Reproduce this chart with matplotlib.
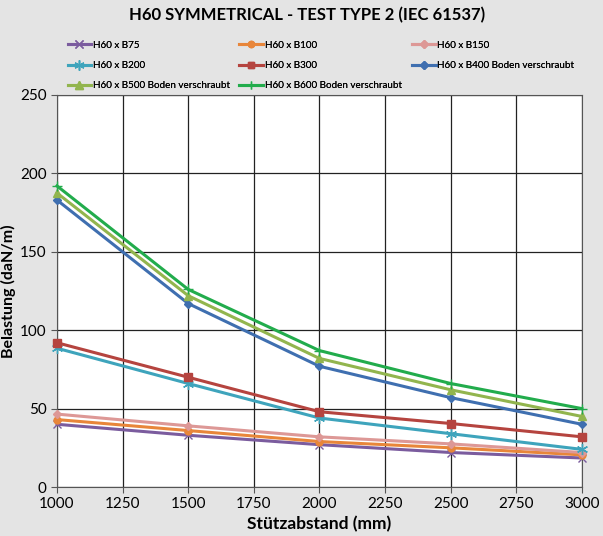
import matplotlib.pyplot as plt

plt.rcParams['font.family'] = ['Lato', 'DejaVu Sans']

# Stützabstand (mm)
spans = [1000, 1500, 2000, 2500, 3000]

# Belastung (daN/m) per profile
b75 = [40, 33, 27, 22, 18.5]
b100 = [43, 36, 29, 25, 20.5]
b150 = [46.5, 39, 32, 27.5, 22]
b200 = [88.5, 66, 44, 34, 24]
b300 = [92, 70, 48, 40.5, 32]
b400 = [183, 117, 77, 57, 40]
b500 = [187.5, 122, 82, 62, 45]
b600 = [192, 126, 87, 66, 50]

series = [
    ('H60 x B75', b75, '#7b5c9e', 'x', 6),
    ('H60 x B100', b100, '#e8863a', 'o', 5),
    ('H60 x B150', b150, '#dd9896', 'D', 4.5),
    ('H60 x B200', b200, '#3ea4bc', (6, 2, 0), 8),
    ('H60 x B300', b300, '#b5443f', 's', 5.5),
    ('H60 x B400 Boden verschraubt', b400, '#3f6fb0', 'D', 4.5),
    ('H60 x B500 Boden verschraubt', b500, '#92b54e', '^', 6),
    ('H60 x B600 Boden verschraubt', b600, '#22ac4c', '+', 7),
]

fig = plt.figure(figsize=(6.03, 5.36), dpi=100, facecolor='#e4e4e4')
ax = fig.add_axes([0.0945, 0.0914, 0.8705, 0.7314])
ax.set_facecolor('white')

handles = []
for label, vals, color, marker, ms in series:
    h, = ax.plot(spans, vals, color=color, lw=2.2, marker=marker, markersize=ms,
                 markeredgecolor=color, markerfacecolor=color, label=label,
                 clip_on=False, zorder=3)
    handles.append(h)

ax.set_xlim(1000, 3000)
ax.set_ylim(0, 250)
ax.set_xticks(range(1000, 3001, 250))
ax.set_yticks(range(0, 251, 50))
ax.grid(True, color='#222222', lw=0.9)
ax.set_axisbelow(True)
for s in ax.spines.values():
    s.set_color('#555555')
ax.tick_params(labelsize=11, length=4, color='#555555')

ax.set_xlabel('Stützabstand (mm)', fontsize=12.5, fontweight='bold', labelpad=3)
ax.set_ylabel('Belastung (daN/m)', fontsize=11.5, fontweight='bold', labelpad=3)
fig.text(0.51, 0.972, 'H60 SYMMETRICAL - TEST TYPE 2 (IEC 61537)', ha='center', va='center',
         fontsize=12, fontweight='bold')

# legend: three columns, rows read left to right
for col, x in enumerate([0.112, 0.397, 0.683]):
    idx = list(range(col, len(series), 3))
    leg = fig.legend([handles[i] for i in idx], [series[i][0] for i in idx],
                     loc='upper left', bbox_to_anchor=(x, 0.924), frameon=False,
                     fontsize=7.1, handlelength=2.4, handletextpad=0.15,
                     labelspacing=1.15, markerscale=0.9, borderpad=0, borderaxespad=0)
    fig.add_artist(leg)

fig.savefig('out.png', dpi=100, facecolor=fig.get_facecolor())
